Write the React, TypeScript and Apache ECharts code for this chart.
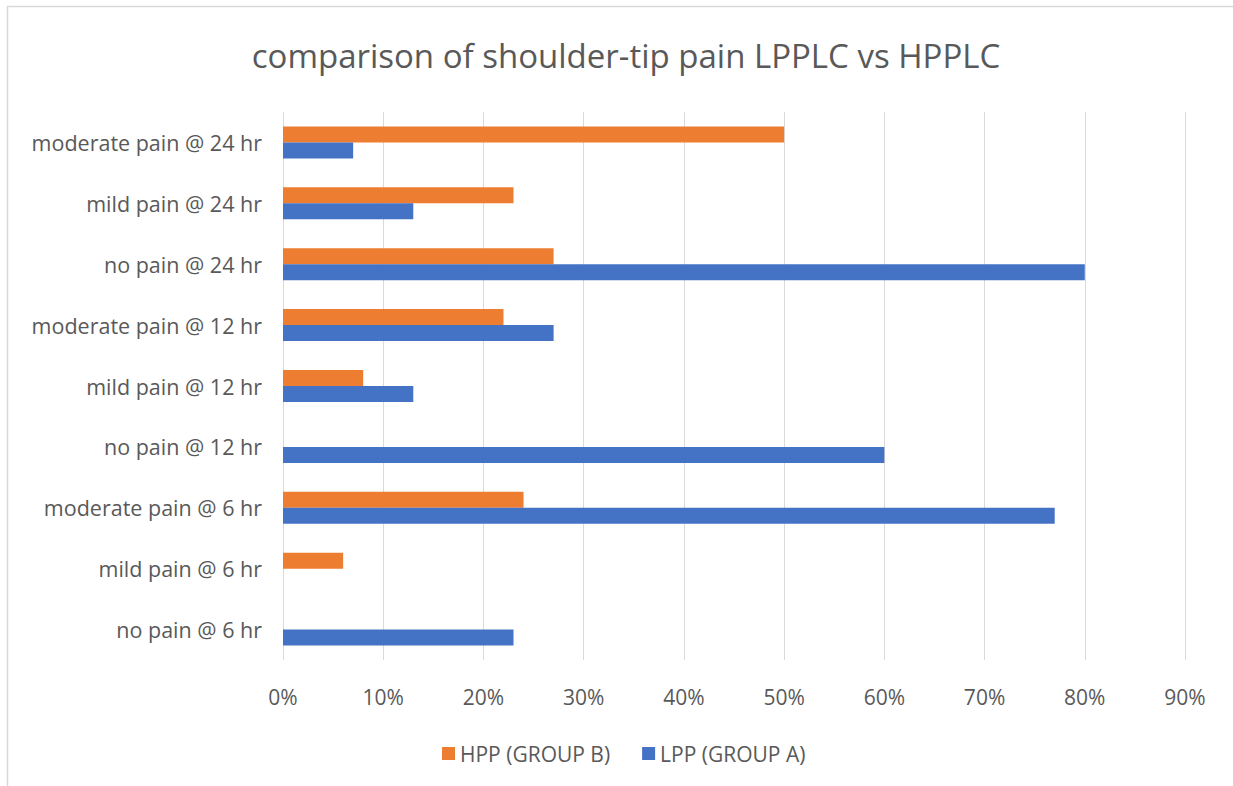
import React, { useEffect, useRef } from "react";
import * as echarts from "echarts";

const categories = [
  "no pain @ 6 hr",
  "mild pain @ 6 hr",
  "moderate pain @ 6 hr",
  "no pain @ 12 hr",
  "mild pain @ 12 hr",
  "moderate pain @ 12 hr",
  "no pain @ 24 hr",
  "mild pain @ 24 hr",
  "moderate pain @ 24 hr",
];
const hppValues = [0, 6, 24, 0, 8, 22, 27, 23, 50];
const lppValues = [23, 0, 77, 60, 13, 27, 80, 13, 7];
const xTicks = [0, 10, 20, 30, 40, 50, 60, 70, 80, 90];

const FONT = "'Open Sans', 'Noto Sans', sans-serif";

export default function App() {
  const ref = useRef<HTMLDivElement>(null);
  useEffect(() => {
    if (!ref.current) return;
    const chart = echarts.init(ref.current, null, { renderer: "svg" });
    chart.setOption({
      animation: false,
      backgroundColor: "#ffffff",
      title: {
        text: "comparison of shoulder-tip pain LPPLC vs HPPLC",
        left: 621,
        textAlign: "center",
        top: 34,
        textStyle: { fontFamily: FONT, fontSize: 33, fontWeight: "normal", color: "#595959" },
      },
      legend: {
        data: ["HPP (GROUP B)", "LPP (GROUP A)"],
        top: 738,
        left: 437,
        itemWidth: 13,
        itemHeight: 13,
        itemGap: 32,
        icon: "rect",
        textStyle: { fontFamily: FONT, fontSize: 21, color: "#595959" },
      },
      grid: { left: 283, right: 48, top: 112, bottom: 126, containLabel: false },
      xAxis: {
        type: "value",
        min: xTicks[0],
        max: xTicks[xTicks.length - 1],
        interval: 10,
        axisLine: { show: false },
        axisTick: { show: false },
        splitLine: { lineStyle: { color: "#d9d9d9", width: 1 } },
        axisLabel: {
          formatter: (v: number) => v + "%",
          fontFamily: FONT,
          fontSize: 21,
          color: "#595959",
          margin: 26,
        },
      },
      yAxis: {
        type: "category",
        data: categories,
        axisLine: { show: false },
        axisTick: { show: false },
        axisLabel: { fontFamily: FONT, fontSize: 21.5, color: "#595959", margin: 21 },
      },
      series: [
        {
          name: "HPP (GROUP B)",
          type: "bar",
          data: hppValues,
          itemStyle: { color: "#ed7d31" },
          barWidth: 16,
          barGap: "0%",
        },
        {
          name: "LPP (GROUP A)",
          type: "bar",
          data: lppValues,
          itemStyle: { color: "#4472c4" },
          barWidth: 16,
          barGap: "0%",
        },
      ],
      graphic: [
        {
          type: "rect",
          shape: { x: 7.5, y: 6.5, width: 1240, height: 800 },
          style: { fill: "none", stroke: "#d9d9d9", lineWidth: 1.5 },
          silent: true,
        },
      ],
    });
    return () => chart.dispose();
  }, []);
  return (
    <div
      ref={ref}
      style={{ position: "fixed", left: 0, top: 0, width: 1233, height: 786 }}
    />
  );
}
